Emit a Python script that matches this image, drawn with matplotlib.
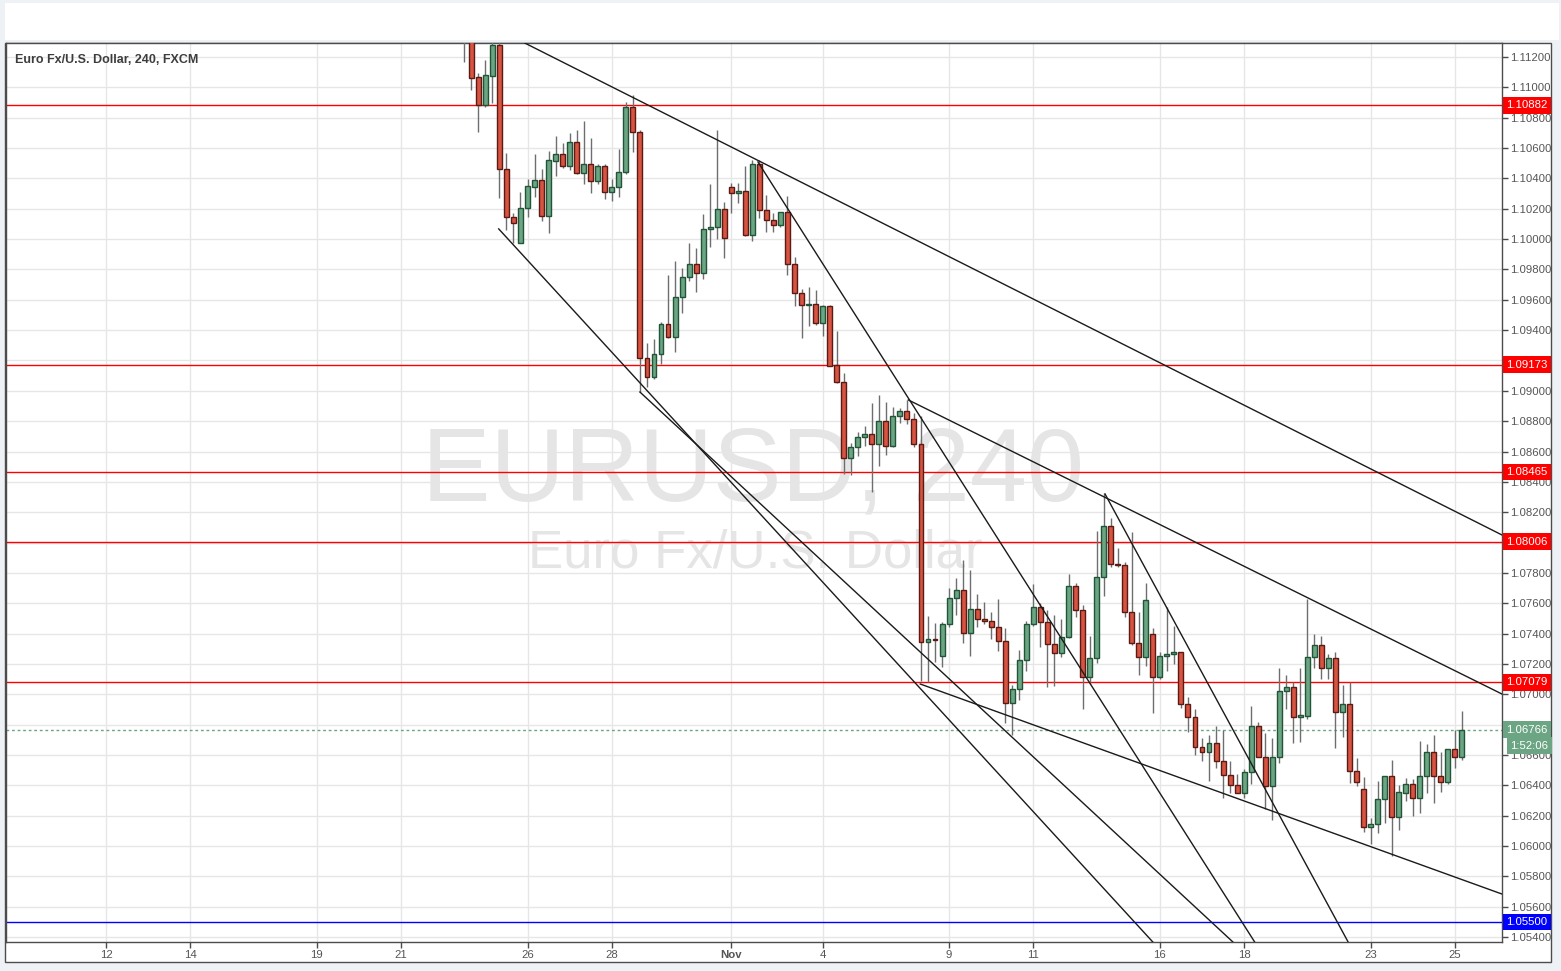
import numpy as np
import matplotlib.pyplot as plt
from matplotlib.patches import Rectangle
from matplotlib.transforms import blended_transform_factory

plt.rcParams['font.family'] = ['Liberation Sans', 'DejaVu Sans']

# EUR/USD 4h bars, bar index 0 = first bar of Oct 12 (6 bars per trading day)
first_bar = 51
opens = [1.11400, 1.11330, 1.11066, 1.10884, 1.11077, 1.11279, 1.10460, 1.10148, 1.09976, 1.10203,
         1.10345, 1.10389, 1.10154, 1.10517, 1.10559, 1.10484, 1.10638, 1.10434, 1.10493, 1.10381,
         1.10482, 1.10308, 1.10341, 1.10440, 1.10869, 1.10704, 1.09214, 1.09093, 1.09241, 1.09438,
         1.09353, 1.09616, 1.09748, 1.09834, 1.09775, 1.10065, 1.10078, 1.10196, 1.10341, 1.10302,
         1.10317, 1.10025, 1.10493, 1.10192, 1.10126, 1.10091, 1.10177, 1.09834, 1.09643, 1.09568,
         1.09570, 1.09449, 1.09559, 1.09170, 1.09056, 1.08555, 1.08628, 1.08698, 1.08714, 1.08648,
         1.08801, 1.08638, 1.08834, 1.08869, 1.08812, 1.08648, 1.07343, 1.07365, 1.07255, 1.07461,
         1.07633, 1.07688, 1.07402, 1.07560, 1.07494, 1.07481, 1.07446, 1.07349, 1.06941, 1.07033,
         1.07224, 1.07461, 1.07574, 1.07479, 1.07330, 1.07270, 1.07376, 1.07714, 1.07554, 1.07112,
         1.07237, 1.07771, 1.08109, 1.07857, 1.07852, 1.07545, 1.07336, 1.07244, 1.07396, 1.07112,
         1.07253, 1.07266, 1.07277, 1.06934, 1.06853, 1.06655, 1.06622, 1.06677, 1.06563, 1.06466,
         1.06400, 1.06352, 1.06490, 1.06793, 1.06585, 1.06396, 1.06585, 1.07024, 1.07046, 1.06853,
         1.06859, 1.07248, 1.07323, 1.07175, 1.07237, 1.06882, 1.06934, 1.06497, 1.06374, 1.06128,
         1.06144, 1.06310, 1.06462, 1.06194, 1.06352, 1.06409, 1.06315, 1.06462, 1.06618, 1.06464,
         1.06420, 1.06638, 1.06585]
highs = [1.11500, 1.11400, 1.11093, 1.11180, 1.11350, 1.11350, 1.10565, 1.10174, 1.10312, 1.10394,
         1.10561, 1.10460, 1.10581, 1.10679, 1.10635, 1.10697, 1.10719, 1.10778, 1.10664, 1.10493,
         1.10493, 1.10394, 1.10594, 1.10901, 1.10950, 1.10720, 1.09313, 1.09340, 1.09456, 1.09763,
         1.09856, 1.09808, 1.09972, 1.09939, 1.10163, 1.10363, 1.10719, 1.10246, 1.10372, 1.10372,
         1.10482, 1.10521, 1.10521, 1.10291, 1.10170, 1.10181, 1.10284, 1.09882, 1.09673, 1.09686,
         1.09665, 1.09566, 1.09566, 1.09394, 1.09116, 1.08654, 1.08727, 1.08768, 1.08918, 1.08973,
         1.08924, 1.08892, 1.08885, 1.08940, 1.08852, 1.08836, 1.07516, 1.07468, 1.07475, 1.07699,
         1.07769, 1.07885, 1.07819, 1.07659, 1.07606, 1.07545, 1.07628, 1.07435, 1.07061, 1.07292,
         1.07485, 1.07727, 1.07600, 1.07556, 1.07523, 1.07494, 1.07791, 1.07732, 1.07589, 1.07384,
         1.08076, 1.08325, 1.08164, 1.07962, 1.07874, 1.08072, 1.07545, 1.07736, 1.07439, 1.07281,
         1.07577, 1.07452, 1.07280, 1.06984, 1.06901, 1.06714, 1.06732, 1.06791, 1.06765, 1.06561,
         1.06473, 1.06506, 1.06923, 1.06816, 1.06743, 1.06714, 1.07172, 1.07127, 1.07083, 1.07172,
         1.07626, 1.07398, 1.07384, 1.07266, 1.07281, 1.07061, 1.07083, 1.06578, 1.06457, 1.06183,
         1.06429, 1.06462, 1.06567, 1.06402, 1.06451, 1.06442, 1.06692, 1.06673, 1.06732, 1.06618,
         1.06638, 1.06765, 1.06890]
lows = [1.11169, 1.10983, 1.10708, 1.10870, 1.10899, 1.10273, 1.10060, 1.09972, 1.09972, 1.10148,
        1.10279, 1.10119, 1.10042, 1.10416, 1.10471, 1.10455, 1.10427, 1.10361, 1.10306, 1.10361,
        1.10262, 1.10253, 1.10279, 1.10430, 1.10576, 1.08994, 1.09027, 1.09076, 1.09175, 1.09350,
        1.09254, 1.09515, 1.09726, 1.09653, 1.09735, 1.09950, 1.09999, 1.09873, 1.10170, 1.10236,
        1.10020, 1.09989, 1.10141, 1.10049, 1.10049, 1.10080, 1.09763, 1.09561, 1.09350, 1.09429,
        1.09434, 1.09363, 1.09166, 1.09050, 1.08450, 1.08445, 1.08573, 1.08638, 1.08335, 1.08507,
        1.08577, 1.08632, 1.08786, 1.08779, 1.08632, 1.07088, 1.07083, 1.07215, 1.07182, 1.07446,
        1.07523, 1.07340, 1.07255, 1.07446, 1.07461, 1.07363, 1.07287, 1.06809, 1.06732, 1.06963,
        1.07156, 1.07450, 1.07314, 1.07046, 1.07057, 1.07248, 1.07370, 1.07508, 1.06901, 1.07068,
        1.07208, 1.07650, 1.07841, 1.07837, 1.07508, 1.07325, 1.07127, 1.07187, 1.06875, 1.07100,
        1.07154, 1.07198, 1.06912, 1.06750, 1.06600, 1.06561, 1.06431, 1.06512, 1.06315, 1.06352,
        1.06350, 1.06315, 1.06407, 1.06585, 1.06242, 1.06172, 1.06549, 1.06901, 1.06677, 1.06688,
        1.06835, 1.07172, 1.07101, 1.07101, 1.06644, 1.06721, 1.06414, 1.06398, 1.06091, 1.06012,
        1.06084, 1.06154, 1.05935, 1.06106, 1.06299, 1.06198, 1.06216, 1.06348, 1.06286, 1.06358,
        1.06409, 1.06516, 1.06567]
closes = [1.11330, 1.11064, 1.10884, 1.11081, 1.11279, 1.10460, 1.10148, 1.10108, 1.10203, 1.10350,
          1.10389, 1.10154, 1.10521, 1.10559, 1.10484, 1.10638, 1.10434, 1.10493, 1.10381, 1.10482,
          1.10308, 1.10341, 1.10440, 1.10869, 1.10704, 1.09214, 1.09093, 1.09241, 1.09438, 1.09353,
          1.09616, 1.09748, 1.09834, 1.09775, 1.10065, 1.10078, 1.10196, 1.10005, 1.10302, 1.10317,
          1.10025, 1.10493, 1.10192, 1.10126, 1.10091, 1.10177, 1.09834, 1.09643, 1.09568, 1.09572,
          1.09449, 1.09559, 1.09166, 1.09056, 1.08555, 1.08628, 1.08698, 1.08714, 1.08648, 1.08801,
          1.08638, 1.08834, 1.08869, 1.08812, 1.08648, 1.07343, 1.07363, 1.07360, 1.07461, 1.07633,
          1.07688, 1.07402, 1.07560, 1.07494, 1.07481, 1.07446, 1.07349, 1.06941, 1.07033, 1.07224,
          1.07461, 1.07574, 1.07479, 1.07330, 1.07270, 1.07376, 1.07714, 1.07554, 1.07112, 1.07237,
          1.07771, 1.08109, 1.07857, 1.07850, 1.07545, 1.07336, 1.07244, 1.07622, 1.07112, 1.07253,
          1.07266, 1.07277, 1.06934, 1.06853, 1.06655, 1.06622, 1.06677, 1.06563, 1.06466, 1.06400,
          1.06352, 1.06490, 1.06793, 1.06585, 1.06396, 1.06585, 1.07024, 1.07046, 1.06853, 1.06864,
          1.07248, 1.07323, 1.07175, 1.07237, 1.06882, 1.06934, 1.06497, 1.06424, 1.06128, 1.06144,
          1.06310, 1.06462, 1.06194, 1.06358, 1.06409, 1.06315, 1.06462, 1.06618, 1.06464, 1.06420,
          1.06638, 1.06585, 1.06766]

day_ticks = [0, 12, 30, 42, 60, 72, 89, 102, 120, 132, 150, 162, 180, 192]
day_labels = ['12', '14', '19', '21', '26', '28', 'Nov', '4', '9', '11', '16', '18', '23', '25']

red_levels = [1.10882, 1.09173, 1.08465, 1.08006, 1.07079]
blue_level = 1.05500
last_price = 1.06766
countdown = '1:52:06'

# hand drawn trend lines: (bar index, price) start and end
trend_lines = [((59.6, 1.11292), (198.7, 1.08050)),
               ((55.9, 1.10067), (149.0, 1.05368)),
               ((76.0, 1.08992), (160.4, 1.05368)),
               ((92.8, 1.10508), (163.5, 1.05368)),
               ((114.2, 1.08940), (198.7, 1.07002)),
               ((115.9, 1.07068), (198.7, 1.05684)),
               ((142.2, 1.08320), (176.8, 1.05368))]

up_fill, up_edge = '#6ba583', '#225437'
dn_fill, dn_edge = '#d75442', '#5b1a13'
axis_col = '#4c4c4c'
text_col = '#555555'

fig = plt.figure(figsize=(15.61, 9.71), dpi=100, facecolor='#eef1f5')

# background panels in pixel units
bg = fig.add_axes([0, 0, 1, 1])
bg.set_xlim(0, 1561)
bg.set_ylim(971, 0)
bg.axis('off')
bg.add_patch(Rectangle((5, 3), 1554, 37, fc='white', ec='none'))
bg.add_patch(Rectangle((5.5, 43), 1546, 919, fc='white', ec=axis_col, lw=1))

ax = fig.add_axes([6 / 1561, 29 / 971, 1496 / 1561, 899 / 971])
ax.set_xlim(-14.23, 198.7)
ax.set_ylim(1.05368, 1.11292)
ax.set_facecolor('white')
ax.set_axisbelow(True)
ax.grid(color='#e6e6e6', lw=1)
for s in ax.spines.values():
    s.set_color(axis_col)
    s.set_linewidth(1)

# watermark
ax.text(753 / 1561, 1 - 500 / 971, 'EURUSD, 240', transform=fig.transFigure, ha='center',
        va='baseline', fontsize=74, color='#e5e5e5', zorder=0.8)
ax.text(755 / 1561, 1 - 568 / 971, 'Euro Fx/U.S. Dollar', transform=fig.transFigure, ha='center',
        va='baseline', fontsize=38, color='#e5e5e5', zorder=0.8)

# candles
x = np.arange(first_bar, first_bar + len(opens))
o = np.array(opens)
h = np.array(highs)
l = np.array(lows)
c = np.array(closes)
up = c >= o
ax.vlines(x, l, h, color='#6e6e70', lw=1, zorder=3)
body_h = np.maximum(np.abs(c - o), 0.00004)
ax.bar(x[up], body_h[up], bottom=np.minimum(o, c)[up], width=0.7,
       color=up_fill, edgecolor=up_edge, lw=1, zorder=3.5)
ax.bar(x[~up], body_h[~up], bottom=np.minimum(o, c)[~up], width=0.7,
       color=dn_fill, edgecolor=dn_edge, lw=1, zorder=3.5)

# horizontal levels
for lvl in red_levels:
    ax.axhline(lvl, color='#ff0000', lw=1, zorder=2)
ax.axhline(blue_level, color='#0000ff', lw=1, zorder=2)
ax.axhline(last_price, color=up_fill, lw=1, ls=(0, (2, 2)), zorder=2)

for (x0, y0), (x1, y1) in trend_lines:
    ax.plot([x0, x1], [y0, y1], color='#1a1a1a', lw=1, zorder=4)

# axes
price_ticks = np.arange(1.054, 1.1121, 0.002)
ax.yaxis.tick_right()
ax.set_yticks(price_ticks)
ax.yaxis.set_major_formatter(plt.FormatStrFormatter('%.5f'))
ax.tick_params(axis='y', length=4, width=1, color=axis_col, labelcolor=text_col, labelsize=8.2, pad=2)
ax.set_xticks(day_ticks)
ax.set_xticklabels(day_labels)
ax.tick_params(axis='x', length=4, width=1, color=axis_col, labelcolor=text_col, labelsize=8.2, pad=1.5)
ax.get_xticklabels()[day_labels.index('Nov')].set_fontweight('bold')

# scale labels that sit right under a price tag are hidden, as on the original
tagged = red_levels + [blue_level, last_price]
for tick_val, lab in zip(price_ticks, ax.get_yticklabels()):
    if min(abs(tick_val - t) for t in tagged) < 0.00045:
        lab.set_visible(False)

# price tags on the right scale
tr = blended_transform_factory(ax.transAxes, ax.transData)
tag_x = (1506 - 6) / 1496
for lvl in red_levels:
    ax.text(tag_x, lvl, '%.5f' % lvl, transform=tr, ha='left', va='center', fontsize=8.2,
            color='white', clip_on=False, zorder=10,
            bbox=dict(boxstyle='square,pad=0.3', fc='#ff0000', ec='none'))
ax.text(tag_x, blue_level, '%.5f' % blue_level, transform=tr, ha='left', va='center', fontsize=8.2,
        color='white', clip_on=False, zorder=10,
        bbox=dict(boxstyle='square,pad=0.3', fc='#0000ff', ec='none'))
ax.text(tag_x, last_price, '%.5f' % last_price, transform=tr, ha='left', va='center', fontsize=8.2,
        color='white', clip_on=False, zorder=10,
        bbox=dict(boxstyle='square,pad=0.3', fc=up_fill, ec='none'))
ax.annotate(countdown, xy=(tag_x, last_price), xycoords=tr, xytext=(3, -11.5),
            textcoords='offset points', ha='left', va='center', fontsize=8.2, color='white',
            annotation_clip=False, zorder=10,
            bbox=dict(boxstyle='square,pad=0.3', fc=up_fill, ec='none'))

# chart title
ax.text(15 / 1561, 1 - 60 / 971, 'Euro Fx/U.S. Dollar, 240, FXCM', transform=fig.transFigure,
        ha='left', va='center', fontsize=9, fontweight='bold', color='#3d3d3d', zorder=10)

fig.savefig('out.png', dpi=100, facecolor=fig.get_facecolor())
